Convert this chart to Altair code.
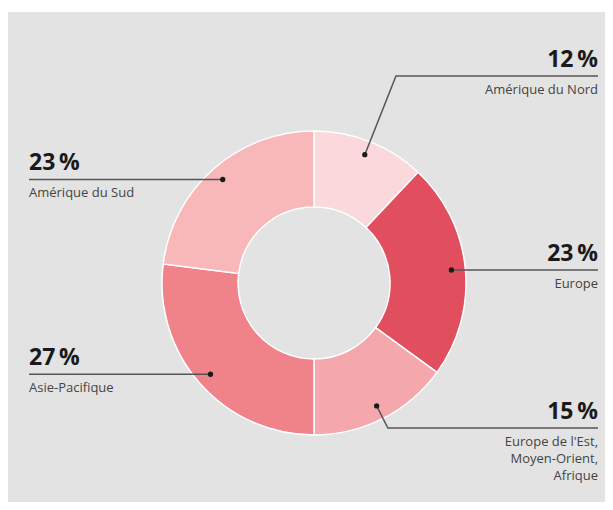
import math
import altair as alt
import pandas as pd

# ---- data ----
regions = ["Amérique du Nord", "Europe", "Europe de l'Est,\nMoyen-Orient,\nAfrique",
           "Asie-Pacifique", "Amérique du Sud"]
shares = [12, 23, 15, 27, 23]
colors = ["#fbd8db", "#e14f5f", "#f5a8ac", "#f08289", "#f8b7b9"]

# ---- layout (pixels inside the plot area) ----
CX, CY = 306, 271
R_OUT, R_IN, R_DOT = 152, 76, 138
LEFT_X, RIGHT_X = 21, 590
line_y_override = [64, None, 416, None, None]   # label line heights for elbowed leaders
FONT = "Open Sans"

# ---- derived tables ----
total = sum(shares)
rows, line_rows = [], []
cum = 0
for i, (reg, s) in enumerate(zip(regions, shares)):
    mid = (cum + s / 2) / total * 2 * math.pi
    cum += s
    sx, cy_ = math.sin(mid), -math.cos(mid)
    dx, dy = CX + R_DOT * sx, CY + R_DOT * cy_
    side = "right" if sx > 0 else "left"
    ly = line_y_override[i] if line_y_override[i] is not None else dy
    # elbow: extend along the radial ray until reaching the label line height
    if line_y_override[i] is not None:
        r = (ly - CY) / cy_
        ex = CX + r * sx
    else:
        ex = dx
    end_x = RIGHT_X if side == "right" else LEFT_X
    rows.append(dict(idx=i, region=reg, share=s, side=side, dx=dx, dy=dy,
                     tx=end_x, pct_y=ly - 9, lab_y=ly + 8,
                     pct=f"{s}\u2009%"))
    for k, (px, py) in enumerate([(dx, dy), (ex, ly), (end_x, ly)]):
        line_rows.append(dict(region=reg, seq=k, x=px, y=py))

df = pd.DataFrame(rows)
lines = pd.DataFrame(line_rows)
pie_df = pd.DataFrame({"idx": list(range(len(regions))), "region": regions, "share": shares})

X = lambda f: alt.X(f, type="quantitative", scale=None, axis=None)
Y = lambda f: alt.Y(f, type="quantitative", scale=None, axis=None)

arc = alt.Chart(pie_df).mark_arc(
    innerRadius=R_IN, outerRadius=R_OUT, stroke="white", strokeWidth=1.5
).encode(
    theta=alt.Theta("share:Q", stack=True),
    color=alt.Color("region:N", scale=alt.Scale(domain=regions, range=colors), legend=None),
    order=alt.Order("idx:Q"),
    x=alt.value(CX), y=alt.value(CY),
)

leader = alt.Chart(lines).mark_line(color="#555555", strokeWidth=1.5).encode(
    x=X("x"), y=Y("y"), detail="region:N", order="seq:Q"
)

dots = alt.Chart(df).mark_circle(size=28, color="#1a1a1a", opacity=1).encode(
    x=X("dx"), y=Y("dy")
)

def texts(side):
    base = alt.Chart(df).transform_filter(alt.datum.side == side)
    pct = base.mark_text(align=side, baseline="alphabetic", font=FONT, fontSize=23,
                         fontWeight="bold", color="#1a1a1a").encode(
        x=X("tx"), y=Y("pct_y"), text="pct:N")
    lab = base.mark_text(align=side, baseline="top", font=FONT, fontSize=13,
                         color="#444444", lineBreak="\n", lineHeight=17).encode(
        x=X("tx"), y=Y("lab_y"), text="region:N")
    return pct + lab

chart = alt.layer(arc, leader, dots, texts("left"), texts("right")).properties(
    width=597, height=494,
    autosize=alt.AutoSizeParams(type="fit", contains="padding"),
    padding={"top": 4, "left": 0, "right": 0, "bottom": 0},
    background="white",
).configure_view(fill="#e3e3e3", stroke=None)

chart.save("out.html", embed_options={"renderer": "svg", "actions": False})
